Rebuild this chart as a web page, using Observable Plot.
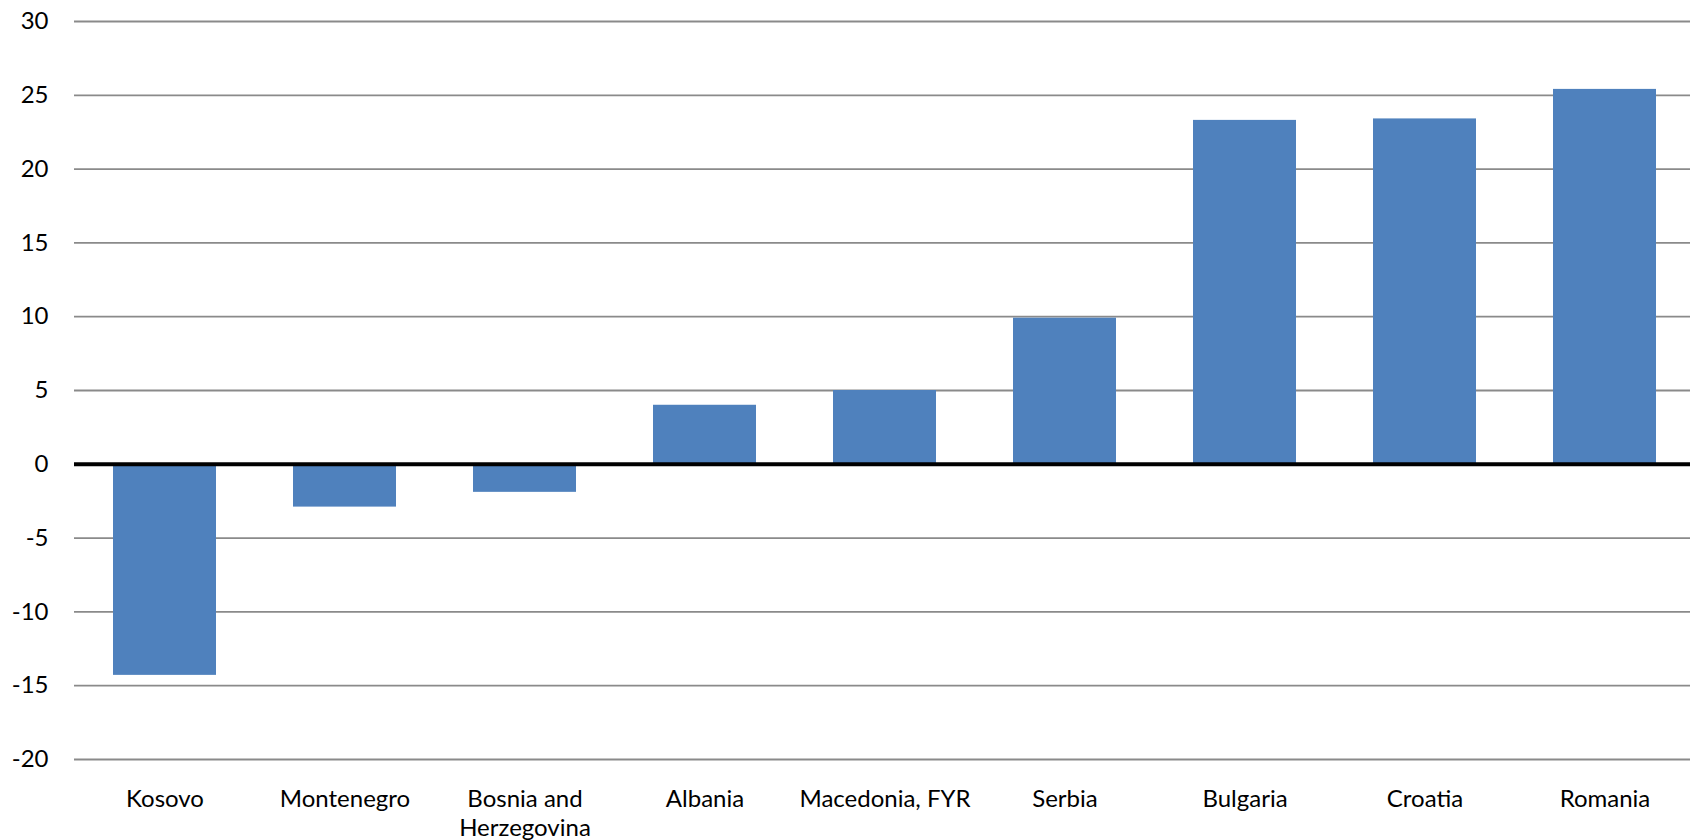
<!DOCTYPE html>
<html>
<head>
<meta charset="utf-8">
<script src="https://cdn.jsdelivr.net/npm/d3@7"></script>
<script src="https://cdn.jsdelivr.net/npm/@observablehq/plot@0.6"></script>
<style>
  html, body { margin: 0; padding: 0; background: #ffffff; }
  #chart { width: 1690px; height: 840px; }
</style>
</head>
<body>
<div id="chart"></div>
<script>
const countries = ["Kosovo", "Montenegro", "Bosnia and Herzegovina", "Albania", "Macedonia, FYR", "Serbia", "Bulgaria", "Croatia", "Romania"];
const values = [-14.3, -2.9, -1.9, 4.0, 5.0, 9.9, 23.3, 23.4, 25.4];
const yTicks = [-20, -15, -10, -5, 0, 5, 10, 15, 20, 25, 30];
const xLabels = ["Kosovo", "Montenegro", "Bosnia and\nHerzegovina", "Albania", "Macedonia, FYR", "Serbia", "Bulgaria", "Croatia", "Romania"];

const data = countries.map((c, i) => ({country: c, value: values[i]}));
const labelOf = new Map(countries.map((c, i) => [c, xLabels[i]]));

const chart = Plot.plot({
  width: 1690,
  height: 840,
  marginTop: 21,
  marginBottom: 81,
  marginLeft: 74,
  marginRight: 0,
  style: {fontFamily: "Lato, 'Open Sans', sans-serif", fontSize: "24px", color: "#000", background: "#fff"},
  x: {domain: countries, range: [74, 1696], paddingInner: 0.425, paddingOuter: 0.2125, align: 0.5, label: null},
  y: {domain: [-20, 30], label: null},
  marks: [
    Plot.ruleY(yTicks.filter(d => d !== 0), {stroke: "#8a8a8a", strokeWidth: 1.8, strokeOpacity: 1}),
    Plot.barY(data, {x: "country", y: "value", fill: "#4f81bd"}),
    Plot.ruleY([0], {stroke: "#000", strokeWidth: 4}),
    Plot.axisY({ticks: yTicks, tickSize: 0, tickPadding: 26, tickFormat: d => d.toString(), fontSize: 24, fill: "#000", label: null}),
    Plot.axisX({tickSize: 0, tickPadding: 27, tickFormat: d => labelOf.get(d), lineHeight: 1.2, fontSize: 24, fill: "#000", label: null})
  ]
});
document.getElementById("chart").appendChild(chart);
</script>
</body>
</html>
